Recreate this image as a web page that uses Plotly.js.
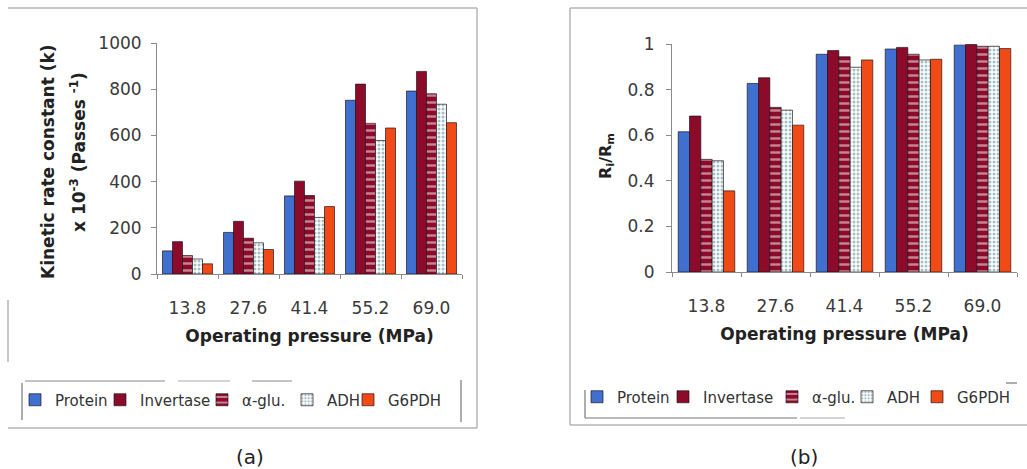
<!DOCTYPE html>
<html>
<head>
<meta charset="utf-8">
<script src="https://cdn.plot.ly/plotly-3.0.1.min.js"></script>
<style>
  html, body { margin: 0; padding: 0; background: #fff; }
  #chart { width: 1027px; height: 469px; }
</style>
</head>
<body>
<div id="chart"></div>
<script>
// Operating pressure categories (MPa)
const pressures = ['13.8', '27.6', '41.4', '55.2', '69.0'];
const seriesNames = ['Protein', 'Invertase', 'α-glu.', 'ADH', 'G6PDH'];

// (a) kinetic rate constant k x 10^-3 (passes^-1)
const kProtein   = [100, 180, 338, 752, 792];
const kInvertase = [140, 228, 402, 822, 877];
const kAlphaGlu  = [80, 155, 340, 652, 780];
const kADH       = [65, 135, 245, 578, 735];
const kG6PDH     = [44, 106, 292, 632, 655];

// (b) fractional release Ri/Rm
const rProtein   = [0.615, 0.827, 0.955, 0.978, 0.995];
const rInvertase = [0.684, 0.852, 0.971, 0.985, 0.998];
const rAlphaGlu  = [0.494, 0.722, 0.944, 0.955, 0.990];
const rADH       = [0.488, 0.710, 0.898, 0.930, 0.990];
const rG6PDH     = [0.356, 0.644, 0.930, 0.933, 0.980];

const FONT = '"DejaVu Sans", "Liberation Sans", Arial, sans-serif';
const W = 1027, H = 469;
const px = x => x / W;
const py = y => 1 - y / H;

const outline = { color: 'rgba(30,20,25,0.85)', width: 0.8 };
const markerStyles = [
  { color: '#3f70d0', line: outline },
  { color: '#8c0b2b', line: outline },
  { color: '#8c0b2b', line: outline,
    pattern: { shape: '-', fgcolor: '#ffffff', bgcolor: '#8c0b2b', size: 7, solidity: 0.35, fillmode: 'overlay' } },
  { color: '#ffffff', line: outline,
    pattern: { shape: '.', fgcolor: '#4d7f88', bgcolor: '#ffffff', size: 4, solidity: 0.45, fillmode: 'overlay' } },
  { color: '#f04a16', line: outline }
];

const kSeries = [kProtein, kInvertase, kAlphaGlu, kADH, kG6PDH];
const rSeries = [rProtein, rInvertase, rAlphaGlu, rADH, rG6PDH];

// each legend entry gets its own legend box so the spacing can follow the figure
const legendId = n => (n === 1 ? 'legend' : 'legend' + n);
const legendCentersA = [35, 120, 222, 307, 368];
const legendCentersB = [597, 683, 792, 867, 937];

const traces = [];
kSeries.forEach((vals, i) => {
  traces.push({
    type: 'bar', x: pressures, y: vals, name: seriesNames[i],
    marker: markerStyles[i], xaxis: 'x', yaxis: 'y', legend: legendId(i + 1),
    hoverinfo: 'x+y+name'
  });
});
rSeries.forEach((vals, i) => {
  traces.push({
    type: 'bar', x: pressures, y: vals, name: seriesNames[i],
    marker: markerStyles[i], xaxis: 'x2', yaxis: 'y2', legend: legendId(i + 6),
    hoverinfo: 'x+y+name'
  });
});

const tickFont = { family: FONT, size: 17, color: '#3a3a3a' };
const xTitle = { text: '<b>Operating pressure (MPa)</b>', font: { family: FONT, size: 17, color: '#222' }, standoff: 12 };

const xCommon = {
  type: 'category', showline: true, linecolor: '#8a8a8a', linewidth: 1,
  ticks: 'outside', tickson: 'boundaries', ticklen: 4, tickcolor: '#8a8a8a',
  tickfont: tickFont, ticklabelstandoff: 19, showgrid: false, zeroline: false,
  fixedrange: true
};
const yCommon = {
  showline: true, linecolor: '#8a8a8a', linewidth: 1,
  ticks: 'outside', ticklen: 5, tickcolor: '#8a8a8a',
  tickfont: tickFont, showgrid: false, zeroline: false, fixedrange: true
};

const line = (x0, y0, x1, y1, color, width) => ({
  type: 'line', xref: 'paper', yref: 'paper',
  x0: px(x0), y0: py(y0), x1: px(x1), y1: py(y1),
  line: { color: color || '#b5b5b5', width: width || 1.5 }
});

const shapes = [
  // panel (a) frame
  line(8, 8, 477, 8), line(477, 8, 477, 428), line(8, 428, 477, 428), line(8, 300, 8, 362),
  // panel (a) legend box
  line(22, 383, 22, 420, '#777', 1.2), line(461, 380, 461, 422, '#777', 1.2),
  line(25, 381, 165, 381, '#888', 1), line(178, 381, 230, 381, '#aaa', 1), line(252, 381, 292, 381, '#888', 1),
  // panel (b) frame
  line(570, 8, 1027, 8), line(570, 8, 570, 425), line(570, 425, 1027, 425),
  // panel (b) legend box
  line(585, 390, 585, 418, '#777', 1.2), line(585, 418, 797, 418, '#777', 1.2),
  line(800, 418, 845, 418, '#aaa', 1), line(1006, 383, 1017, 383, '#777', 1.2)
];

const annFont = size => ({ family: FONT, size: size, color: '#222' });
const annotations = [
  { xref: 'paper', yref: 'paper', x: px(48), y: py(162), text: '<b>Kinetic rate constant (k)</b>',
    textangle: -90, showarrow: false, xanchor: 'center', yanchor: 'middle', font: annFont(17) },
  { xref: 'paper', yref: 'paper', x: px(78), y: py(152), text: '<b>x 10<sup>-3</sup> (Passes <sup>-1</sup>)</b>',
    textangle: -90, showarrow: false, xanchor: 'center', yanchor: 'middle', font: annFont(17) },
  { xref: 'paper', yref: 'paper', x: px(607), y: py(156), text: '<b>R<sub>i</sub>/R<sub>m</sub></b>',
    textangle: -90, showarrow: false, xanchor: 'center', yanchor: 'middle', font: annFont(16) },
  { xref: 'paper', yref: 'paper', x: px(250), y: py(457), text: '(a)',
    showarrow: false, xanchor: 'center', yanchor: 'middle', font: annFont(20) },
  { xref: 'paper', yref: 'paper', x: px(804), y: py(457), text: '(b)',
    showarrow: false, xanchor: 'center', yanchor: 'middle', font: annFont(20) }
];

const legendBase = (cx, cy, size) => ({
  orientation: 'h', xanchor: 'left', yanchor: 'middle', bgcolor: 'rgba(0,0,0,0)',
  font: { family: FONT, size: size, color: '#333' }, itemwidth: 30,
  x: px(cx - 20), y: py(cy)
});

const layout = {
  width: W, height: H,
  margin: { l: 0, r: 0, t: 0, b: 0 },
  paper_bgcolor: '#ffffff', plot_bgcolor: '#ffffff',
  font: { family: FONT },
  barmode: 'group', bargap: 0.18, bargroupgap: 0,
  showlegend: true,
  xaxis: Object.assign({}, xCommon, { domain: [px(157), px(462)], anchor: 'y', title: xTitle }),
  yaxis: Object.assign({}, yCommon, { domain: [py(274), py(43)], anchor: 'x', range: [0, 1000],
    tickvals: [0, 200, 400, 600, 800, 1000], ticklabelstandoff: 6 }),
  xaxis2: Object.assign({}, xCommon, { domain: [px(672), px(1017)], anchor: 'y2', title: xTitle }),
  yaxis2: Object.assign({}, yCommon, { domain: [py(272), py(44)], anchor: 'x2', range: [0, 1],
    tickvals: [0, 0.2, 0.4, 0.6, 0.8, 1], ticklabelstandoff: 8 }),
  shapes: shapes,
  annotations: annotations
};
legendCentersA.forEach((cx, i) => { layout[legendId(i + 1)] = legendBase(cx, 400, 15); });
legendCentersB.forEach((cx, i) => { layout[legendId(i + 6)] = legendBase(cx, 397, 15); });

Plotly.newPlot('chart', traces, layout, { displayModeBar: false, staticPlot: true });
</script>
</body>
</html>
